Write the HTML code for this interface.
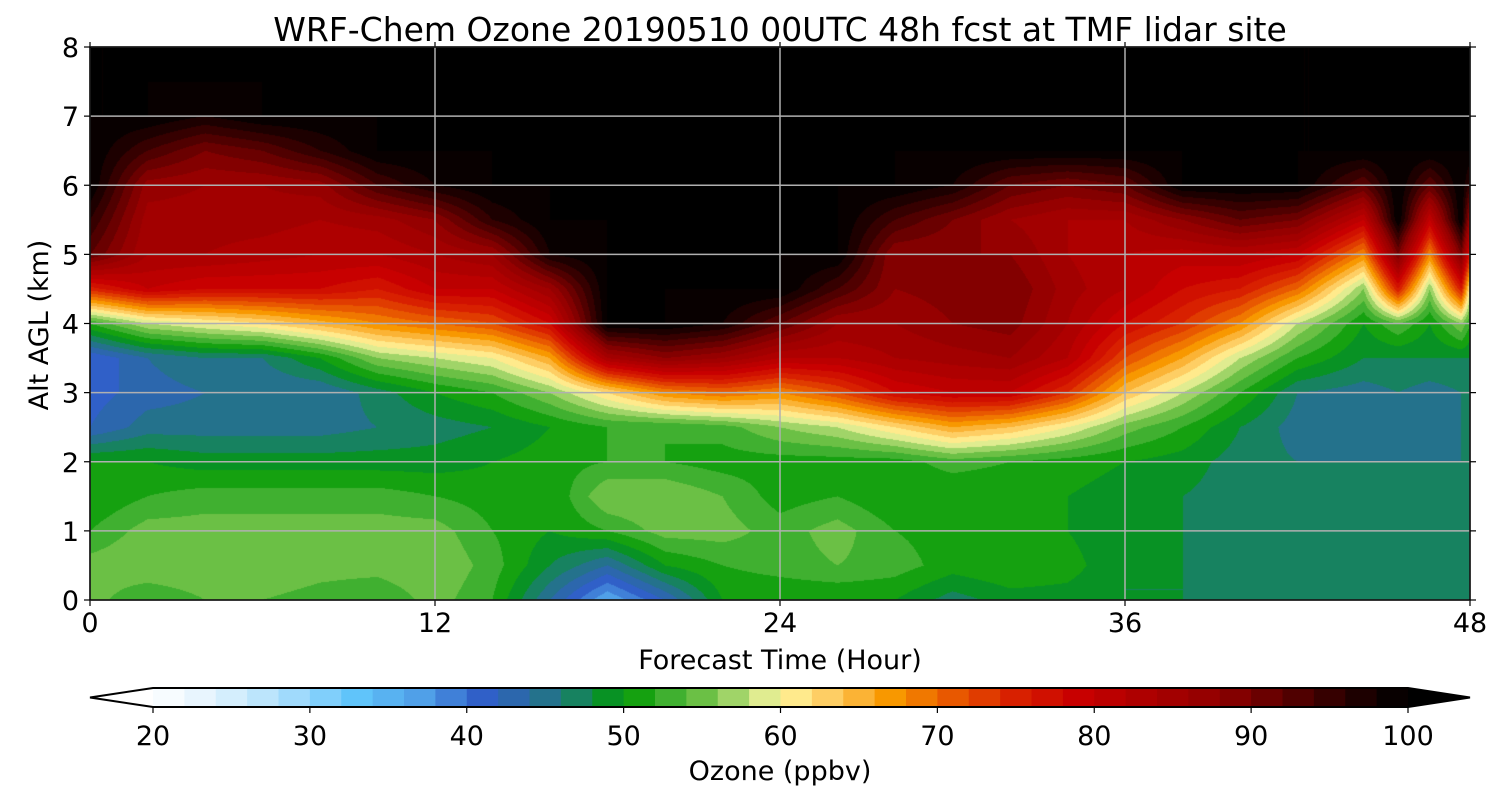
<!DOCTYPE html>
<html><head><meta charset="utf-8">
<style>
body{margin:0;background:#fff;width:1500px;height:800px;overflow:hidden;font-family:"DejaVu Sans","Liberation Sans",sans-serif;}
#wrap{position:relative;width:1500px;height:800px;}
canvas{position:absolute;left:90px;top:47px;}
svg{position:absolute;left:0;top:0;}
</style></head><body>
<div id="wrap">
<canvas id="cv" width="1380" height="553"></canvas>
<svg id="sv" width="1500" height="800"></svg>
</div>
<script>
// ---- data ----
const hours = [0,2,4,6,8,10,12,14,16,18,20,22,24,26,28,30,32,34,36,38,40,42,44.3,45.5,46.6,47.7,48];
const altitudes = [0,0.5,1,1.5,2,2.5,3,3.5,4,4.5,5,5.5,6,6.5,7,7.5,8];
const ozone = [
[55,55,52,50,50,42,41,40,52,75,92,96,100],
[52,56,55,52,50,45,43,44,58,80,84,85,87,94,100],
[54,56,55,53,49,45,44,46,60,78,84,85,86,90,98,100],
[54,56,55,53,49,45,44,46,62,78,83,85,86,92,100],
[53,55,55,53,49,45,44,50,65,78,82,84,87,96,100],
[52,55,55,53,49,46,47,56,68,76,82,85,94,100],
[55,56,55,52,49,47,50,58,70,80,84,88,98,100],
[52,53,52,51,50,48,52,60,72,80,86,96,100],
[44,48,50,50,51,50,56,66,78,86,98,100],
[36,44,52,56,52,52,62,84,100],
[42,50,55,56,52,52,68,88,100],
[50,52,55,54,51,53,70,86,98,100],
[50,53,53,51,51,56,68,82,92,100],
[50,54,55,52,51,58,72,82,86,94,100],
[50,53,52,50,51,62,78,84,86,88,88,94,100],
[47,51,51,50,53,66,80,85,88,89,88,90,98,100],
[49,52,51,50,52,64,80,86,89,90,88,86,92,100],
[49,51,50,50,51,60,74,82,84,85,84,84,90,100],
[48,48,48,49,50,55,64,72,78,82,82,84,92,100],
[48,48,48,48,49,52,58,66,74,78,81,88,100],
[47,47,47,47,47,48,52,58,68,76,82,92,100],
[47,47,47,46,46,45,46,52,58,70,80,90,100],
[47,47,47,47,46,44,45,48,50,56,68,80,92,100],
[47,47,47,47,46,45,46,48,54,76,90,100],
[47,47,47,47,46,45,45,48,50,56,68,80,92,100],
[46,46,46,46,46,46,46,48,56,76,90,100],
[46,46,46,46,46,46,46,48,52,60,76,86,95,100]
];
const xTicks = [0,12,24,36,48];
const yTicks = [0,1,2,3,4,5,6,7,8];
const cbTicks = [20,30,40,50,60,70,80,90,100];

// ---- geometry ----
const PL=90,PT=47,PW=1380,PH=553;
const xs = h => PL + h/48*PW;
const ys = a => PT + PH - a/8*PH;
const CBL=153,CBR=1408,CBT=688,CBB=707;
const cbx = v => CBL + (v-20)/80*(CBR-CBL);

const cmapV=[20,24,28,33,37,41,44,46,48,50,53,56,58,60,64,67,71,75,79,84,88,93,98,100];
const cmapC=['#ffffff','#e0f2fd','#b0e0fc','#60c4fa','#50a0e8','#3060c8','#2a6aa0','#1e7a78','#108a48','#009a00','#40b030','#80c850','#c0e080','#fff8a0','#fdc050','#f89800','#e85800','#d82000','#c80000','#a80000','#900000','#500000','#100000','#000000'];
function hex(c){return [parseInt(c.substr(1,2),16),parseInt(c.substr(3,2),16),parseInt(c.substr(5,2),16)];}
const cmapRGB=cmapC.map(hex);
function cmap(v){
  if(v<=cmapV[0])return cmapRGB[0];
  for(let i=1;i<cmapV.length;i++){if(v<=cmapV[i]){const t=(v-cmapV[i-1])/(cmapV[i]-cmapV[i-1]);const a=cmapRGB[i-1],b=cmapRGB[i];return [a[0]+(b[0]-a[0])*t,a[1]+(b[1]-a[1])*t,a[2]+(b[2]-a[2])*t];}}
  return cmapRGB[cmapRGB.length-1];
}
const levelColors=[];for(let k=0;k<40;k++)levelColors.push(cmap(20+2*k+1).map(Math.round));
function levelColor(v){let k=Math.floor((v-20)/2);if(k<0)return [255,255,255];if(k>39)return [0,0,0];return levelColors[k];}
function prof(i,j){const p=ozone[i];return j<p.length?p[j]:100;}

const cv=document.getElementById('cv'),ctx=cv.getContext('2d');
const img=ctx.createImageData(PW,PH);
for(let px=0;px<PW;px++){
  const h=(px+0.5)/PW*48;
  let i=0;while(i<hours.length-2&&h>hours[i+1])i++;
  const tx=(h-hours[i])/(hours[i+1]-hours[i]);
  for(let py=0;py<PH;py++){
    const a=(PH-py-0.5)/PH*8;
    let j=Math.min(Math.floor(a/0.5),altitudes.length-2);
    const ty=(a-altitudes[j])/(altitudes[j+1]-altitudes[j]);
    const v=(1-tx)*((1-ty)*prof(i,j)+ty*prof(i,j+1))+tx*((1-ty)*prof(i+1,j)+ty*prof(i+1,j+1));
    const c=levelColor(v);const o=(py*PW+px)*4;
    img.data[o]=c[0];img.data[o+1]=c[1];img.data[o+2]=c[2];img.data[o+3]=255;
  }
}
ctx.putImageData(img,0,0);

const sv=document.getElementById('sv');const NS='http://www.w3.org/2000/svg';
function el(tag,attrs,parent){const e=document.createElementNS(NS,tag);for(const k in attrs)e.setAttribute(k,attrs[k]);(parent||sv).appendChild(e);return e;}
function txt(s,x,y,size,anchor,name,rot){const t=el('text',{x:x,y:y,'font-size':size,'text-anchor':anchor||'middle',fill:'#000','font-family':'DejaVu Sans, Liberation Sans, sans-serif'});if(rot)t.setAttribute('transform',rot);t.textContent=s;


return t;}

const FS=27;
xTicks.forEach(h=>{
  const g=el('line',{x1:xs(h),x2:xs(h),y1:PT,y2:PT+PH,stroke:'#b0b0b0','stroke-width':1.5});
  
  
  el('line',{x1:xs(h),x2:xs(h),y1:PT+PH,y2:PT+PH+6,stroke:'#000','stroke-width':1.2});
  el('line',{x1:xs(h),x2:xs(h),y1:PT,y2:PT-5,stroke:'#000','stroke-width':1.2});
  txt(String(h),xs(h),PT+PH+32,FS,'middle','x-tick-label');
});
yTicks.forEach(a=>{
  const g=el('line',{x1:PL,x2:PL+PW,y1:ys(a),y2:ys(a),stroke:'#b0b0b0','stroke-width':1.5});
  
  
  el('line',{x1:PL-6,x2:PL,y1:ys(a),y2:ys(a),stroke:'#000','stroke-width':1.2});
  el('line',{x1:PL+PW,x2:PL+PW+6,y1:ys(a),y2:ys(a),stroke:'#000','stroke-width':1.2});
  txt(String(a),PL-11,ys(a)+10,FS,'end','y-tick-label');
});
const fr=el('rect',{x:PL,y:PT,width:PW,height:PH,fill:'none',stroke:'#000','stroke-width':1.5});



txt('WRF-Chem Ozone 20190510 00UTC 48h fcst at TMF lidar site',780,41,33,'middle','chart-title');
txt('Forecast Time (Hour)',780,669,FS,'middle','x-axis-title');
txt('Alt AGL (km)',48,325,FS,'middle','y-axis-title','rotate(-90 48 325)');

const cbMid=(CBT+CBB)/2;
const lt=el('polygon',{points:`${CBL},${CBT} ${CBL},${CBB} 90,${cbMid}`,fill:'#ffffff'});


for(let k=0;k<40;k++){
  const c=levelColors[k];
  const r=el('rect',{x:cbx(20+2*k),y:CBT,width:cbx(22+2*k)-cbx(20+2*k)+0.6,height:CBB-CBT,fill:`rgb(${c[0]},${c[1]},${c[2]})`});
  
  
}
const rt=el('polygon',{points:`${CBR},${CBT} ${CBR},${CBB} 1470,${cbMid}`,fill:'#000'});


const ol=el('polygon',{points:`90,${cbMid} ${CBL},${CBT} ${CBR},${CBT} 1470,${cbMid} ${CBR},${CBB} ${CBL},${CBB}`,fill:'none',stroke:'#000','stroke-width':2});


cbTicks.forEach(v=>{
  el('line',{x1:cbx(v),x2:cbx(v),y1:CBB,y2:CBB+6,stroke:'#000','stroke-width':1.2});
  txt(String(v),cbx(v),745,FS,'middle','colorbar-tick-label');
});
txt('Ozone  (ppbv)',780,780,FS,'middle','colorbar-title');
</script>
</body></html>
